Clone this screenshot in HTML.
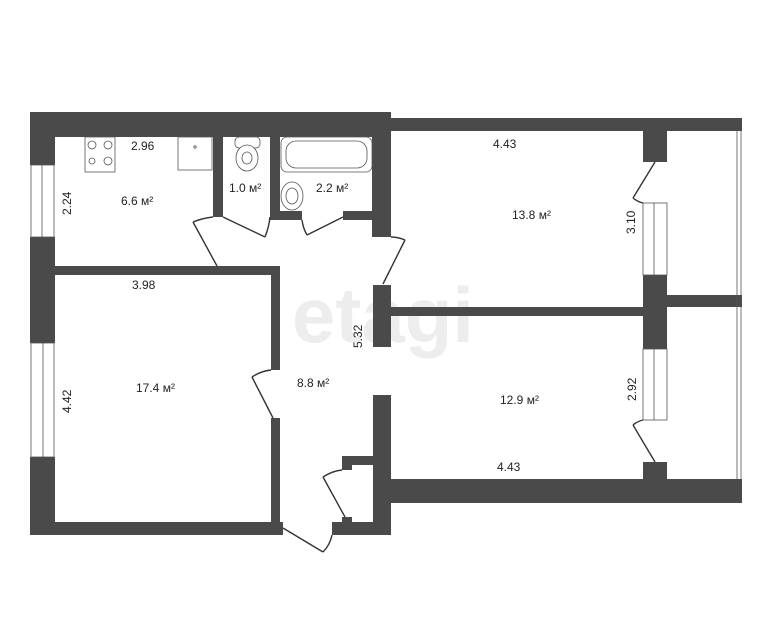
<!DOCTYPE html>
<html><head><meta charset="utf-8"><style>
html,body{margin:0;padding:0;background:#fff;width:776px;height:637px;overflow:hidden}
svg{display:block}
text{font-family:"Liberation Sans","DejaVu Sans",sans-serif;fill:#222}
</style></head><body>
<svg width="776" height="637" viewBox="0 0 776 637" xmlns="http://www.w3.org/2000/svg">
<text x="383" y="342" font-size="78" font-weight="bold" fill="#eeeeee" text-anchor="middle" style="fill:#ededed">etagi</text>
<g fill="#4a4a4a">
<!-- top walls -->
<rect x="30" y="112" width="352" height="25"/>
<rect x="372" y="118" width="370" height="13"/>
<!-- left outer -->
<rect x="30" y="112" width="25" height="53"/>
<rect x="30" y="237" width="25" height="106"/>
<rect x="30" y="457" width="25" height="78"/>
<!-- kitchen / wc / bath -->
<rect x="213" y="137" width="10" height="80"/>
<rect x="270" y="137" width="10" height="83"/>
<rect x="270" y="211" width="32" height="9"/>
<rect x="343" y="211" width="30" height="9"/>
<rect x="372" y="112" width="19" height="125"/>
<!-- kitchen bottom / room 17.4 -->
<rect x="55" y="266" width="225" height="9"/>
<rect x="271" y="266" width="9" height="104"/>
<rect x="271" y="418" width="9" height="106"/>
<rect x="30" y="522" width="253" height="13"/>
<!-- hall column -->
<rect x="373" y="285" width="18" height="62"/>
<rect x="373" y="395" width="18" height="140"/>
<rect x="342" y="456" width="31" height="9"/>
<rect x="342" y="456" width="10" height="14"/>
<rect x="332" y="522" width="59" height="13"/>
<rect x="342" y="517" width="10" height="6"/>
<!-- between rooms -->
<rect x="391" y="307" width="252" height="9"/>
<rect x="391" y="479" width="351" height="24"/>
<!-- pillars right -->
<rect x="643" y="118" width="24" height="44"/>
<rect x="643" y="275" width="24" height="74"/>
<rect x="667" y="295" width="75" height="12"/>
<rect x="643" y="462" width="24" height="20"/>
</g>
<!-- windows -->
<g fill="#fff" stroke="#555" stroke-width="0.8">
<rect x="31" y="165" width="23" height="72"/>
<rect x="31" y="343" width="23" height="114"/>
<rect x="643" y="203" width="24" height="72"/>
<rect x="643" y="349" width="24" height="71"/>
</g>
<g stroke="#555" stroke-width="0.8">
<line x1="42" y1="165" x2="42" y2="237"/><line x1="43" y1="343" x2="43" y2="457"/>
<line x1="654" y1="203" x2="654" y2="275"/><line x1="654" y1="349" x2="654" y2="420"/>
<line x1="737" y1="131" x2="737" y2="479"/><line x1="741" y1="131" x2="741" y2="479"/>
</g>
<!-- doors -->
<g stroke="#333" stroke-width="1.4" fill="none">
<line x1="193" y1="222" x2="217" y2="266"/><path d="M193 222 Q203 218 213 217"/>
<line x1="223" y1="217" x2="265" y2="237"/><path d="M265 237 Q269 227 270 217"/>
<line x1="307" y1="235" x2="343" y2="217"/><path d="M302 220 Q303 228 307 235"/>
<line x1="383" y1="284" x2="405" y2="240"/><path d="M405 240 Q398 237 391 237"/>
<line x1="252" y1="377" x2="273" y2="418"/><path d="M252 377 Q261 371 271 370"/>
<line x1="323" y1="477" x2="345" y2="517"/><path d="M323 477 Q332 471 342 470"/>
<line x1="283" y1="528" x2="323" y2="552"/><path d="M323 552 Q330 545 332 535"/>
<line x1="633" y1="198" x2="655" y2="162"/><path d="M633 198 Q638 202 643 203"/>
<line x1="633" y1="425" x2="655" y2="462"/><path d="M633 425 Q638 421 643 420"/>
</g>
<!-- fixtures -->
<g stroke="#555" stroke-width="0.8" fill="#fff">
<rect x="85" y="137" width="30" height="35"/>
<circle cx="92" cy="145" r="4"/><circle cx="108" cy="145" r="4"/>
<circle cx="92" cy="161" r="3"/><circle cx="108" cy="161" r="4"/>
<rect x="178" y="137" width="34" height="33"/><circle cx="195" cy="147" r="1.2"/>
<rect x="235" y="137" width="25" height="11" rx="4"/>
<ellipse cx="247" cy="158" rx="11" ry="13"/><ellipse cx="247" cy="158" rx="5" ry="6"/>
<rect x="281" y="137" width="91" height="35" rx="6"/>
<rect x="286" y="141" width="81" height="27" rx="10"/>
<ellipse cx="292" cy="196" rx="11" ry="14"/><ellipse cx="292" cy="196" rx="6" ry="8"/>
</g>
<!-- labels -->
<g font-size="12">
<text x="131" y="150">2.96</text>
<text x="121" y="205">6.6 м²</text>
<text x="229" y="192">1.0 м²</text>
<text x="316" y="192">2.2 м²</text>
<text x="132" y="289">3.98</text>
<text x="136" y="392">17.4 м²</text>
<text x="297" y="387">8.8 м²</text>
<text x="493" y="148">4.43</text>
<text x="512" y="219">13.8 м²</text>
<text x="500" y="404">12.9 м²</text>
<text x="497" y="471">4.43</text>
<text transform="translate(71,215) rotate(-90)">2.24</text>
<text transform="translate(71,413) rotate(-90)">4.42</text>
<text transform="translate(362,348) rotate(-90)">5.32</text>
<text transform="translate(635,234) rotate(-90)">3.10</text>
<text transform="translate(636,401) rotate(-90)">2.92</text>
</g>
</svg>
</body></html>
